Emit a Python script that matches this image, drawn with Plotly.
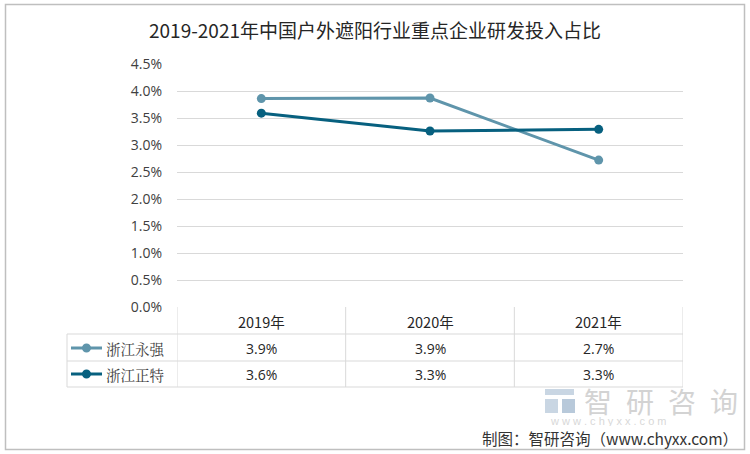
import plotly.graph_objects as go

categories = ["2019年", "2020年", "2021年"]
series_names = ["浙江永强", "浙江正特"]
yongqiang = [3.86, 3.87, 2.72]   # %
zhengte = [3.59, 3.26, 3.29]     # %
series_values = [yongqiang, zhengte]
colors = ["#5F95AB", "#07607F"]

title = "2019-2021年中国户外遮阳行业重点企业研发投入占比"
source = "制图：智研咨询（www.chyxx.com）"
watermark = "智\u2002研\u2002咨\u2002询"
watermark_url = "w w w . c h y x x . c o m"

W, H = 750, 454
L, R, T, B = 177, 683, 64, 307  # plot area in px


def px(x):
    return (x - L) / (R - L)


def py(y):
    return (B - y) / (B - T)


fig = go.Figure()
for name, vals, c in zip(series_names, series_values, colors):
    fig.add_trace(go.Scatter(
        x=categories, y=[v / 100 for v in vals], mode="lines+markers", name=name,
        line=dict(color=c, width=3), marker=dict(color=c, size=9),
        showlegend=False, hoverinfo="x+y",
    ))

shapes = []
annotations = []
grid = "#D9D9D9"
# table horizontal lines
for yy in [334, 361, 387]:
    shapes.append(dict(type="line", xref="paper", yref="paper", x0=px(67), x1=px(683),
                       y0=py(yy), y1=py(yy), line=dict(color=grid, width=1)))
# table vertical lines
for i in range(len(categories) + 1):
    shapes.append(dict(type="line", xref="x", yref="paper", x0=i - 0.5, x1=i - 0.5,
                       y0=py(307), y1=py(387), line=dict(color=grid, width=1)))
shapes.append(dict(type="line", xref="paper", yref="paper", x0=px(67), x1=px(67),
                   y0=py(334), y1=py(387), line=dict(color=grid, width=1)))

num_font = dict(family="Open Sans, Liberation Sans, sans-serif", size=14, color="#262626")
# header row
for c in categories:
    annotations.append(dict(x=c, y=py(321), xref="x", yref="paper", text=c, showarrow=False,
                            xanchor="center", yanchor="middle",
                            font=dict(family="Noto Sans CJK SC, sans-serif", size=14.5, color="#262626")))
row_y = [348, 374]
for name, vals, c, ry in zip(series_names, series_values, colors, row_y):
    for cat, v in zip(categories, vals):
        annotations.append(dict(x=cat, y=py(ry), xref="x", yref="paper", text=f"{v:.1f}%",
                                showarrow=False, xanchor="center", yanchor="middle", font=num_font))
    shapes.append(dict(type="line", xref="paper", yref="paper", x0=px(71), x1=px(102),
                       y0=py(ry), y1=py(ry), line=dict(color=c, width=3)))
    shapes.append(dict(type="circle", xref="paper", yref="paper", x0=px(82), x1=px(91),
                       y0=py(ry + 4.5), y1=py(ry - 4.5), fillcolor=c, line=dict(color=c, width=0)))
    annotations.append(dict(x=px(104), y=py(ry), xref="paper", yref="paper", text=name,
                            showarrow=False, xanchor="left", yanchor="middle",
                            font=dict(family="Noto Serif CJK SC, Noto Sans CJK SC, serif", size=14.5, color="#404040")))

# outer border
shapes.append(dict(type="rect", xref="paper", yref="paper", x0=px(5.5), x1=px(744.5),
                   y0=py(449.5), y1=py(4.5), line=dict(color="#BFBFBF", width=1.5)))

# watermark logo
wm = "#C9D6E3"
shapes += [
    dict(type="rect", xref="paper", yref="paper", x0=px(545), x1=px(574), y0=py(395), y1=py(389),
         fillcolor=wm, line=dict(width=0)),
    dict(type="rect", xref="paper", yref="paper", x0=px(545), x1=px(558), y0=py(413), y1=py(399),
         fillcolor=wm, line=dict(width=0)),
    dict(type="rect", xref="paper", yref="paper", x0=px(562), x1=px(575), y0=py(413), y1=py(399),
         fillcolor="#B8C9DA", line=dict(width=0)),
]
annotations.append(dict(x=px(582), y=py(401), xref="paper", yref="paper", text=watermark,
                        showarrow=False, xanchor="left", yanchor="middle", height=30,
                        font=dict(family="Noto Sans CJK SC, sans-serif", size=28, color="#D3D3D3")))
annotations.append(dict(x=px(548), y=py(421), xref="paper", yref="paper", text=watermark_url,
                        showarrow=False, xanchor="left", yanchor="middle", height=11,
                        font=dict(family="Liberation Sans, sans-serif", size=11, color="#D8D8D8")))
annotations.append(dict(x=px(740), y=py(438), xref="paper", yref="paper", text=source,
                        showarrow=False, xanchor="right", yanchor="middle",
                        font=dict(family="Noto Sans CJK SC, sans-serif", size=15.5, color="#333333")))

fig.update_layout(
    width=W, height=H,
    margin=dict(l=L, r=W - R, t=T, b=H - B, pad=0),
    paper_bgcolor="white", plot_bgcolor="white",
    title=dict(text=title, x=0.5, xanchor="center", y=1 - 31 / H, yanchor="middle",
               font=dict(family="Noto Sans CJK SC, sans-serif", size=19, color="#262626")),
    xaxis=dict(type="category", range=[-0.5, 2.5], showticklabels=False, showgrid=False,
               showline=False, zeroline=False, fixedrange=True),
    yaxis=dict(range=[0, 0.045], dtick=0.005, tickformat=".1%", showgrid=True, gridcolor=grid,
               gridwidth=1, zeroline=False, showline=False, ticks="", ticklabelstandoff=14,
               tickfont=dict(family="Open Sans, Liberation Sans, sans-serif", size=14, color="#404040")),
    shapes=shapes, annotations=annotations,
)

fig.write_html("out.html", config={"displayModeBar": False},
               post_script="document.body.style.margin='0';document.body.style.overflow='hidden';")
